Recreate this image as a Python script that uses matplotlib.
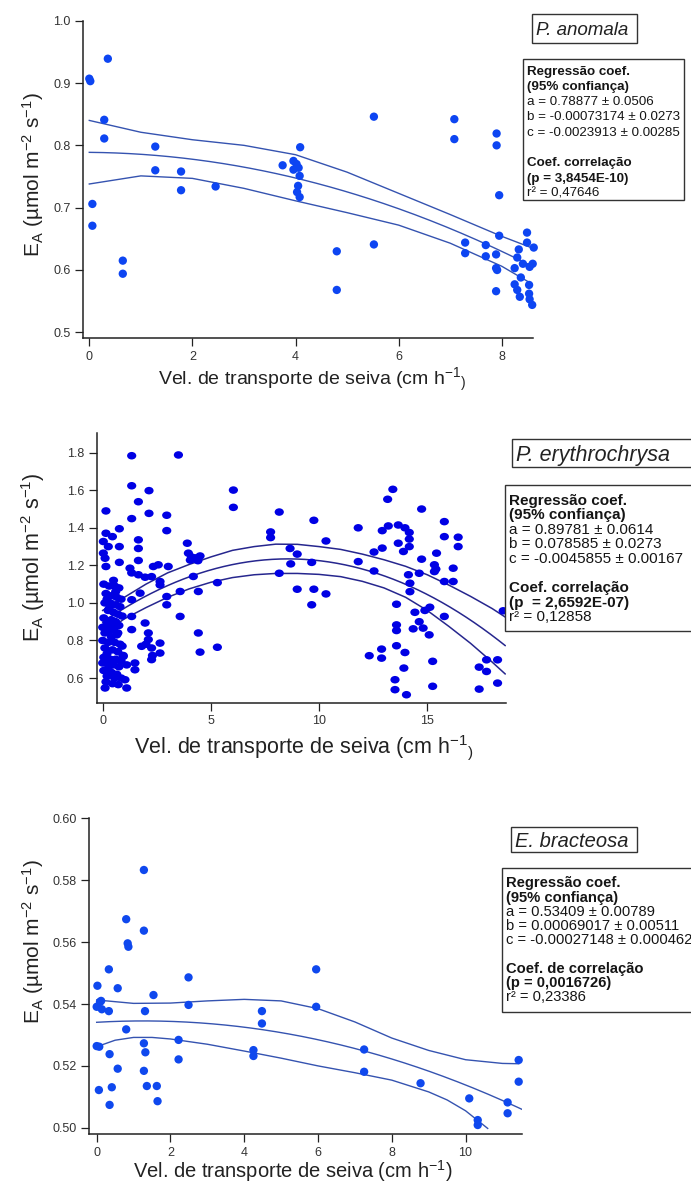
import numpy as np
import matplotlib
matplotlib.use("Agg")
import matplotlib.pyplot as plt
from matplotlib.path import Path
from matplotlib.transforms import Affine2D
from matplotlib.patches import Rectangle
from matplotlib.ticker import FormatStrFormatter

plt.rcParams['font.family'] = ['Liberation Sans', 'DejaVu Sans']
plt.rcParams['mathtext.fontset'] = 'custom'
plt.rcParams['mathtext.rm'] = 'Liberation Sans'
plt.rcParams['mathtext.it'] = 'Liberation Sans:italic'
plt.rcParams['mathtext.bf'] = 'Liberation Sans:bold'
plt.rcParams['mathtext.default'] = 'regular'

W, H = 691, 1187

# ---------------- data: P. anomala ----------------
p1_x = [0.0, 0.02, 0.36, 0.29, 0.29, 0.06, 0.06, 0.65, 0.65, 1.28,
        1.28, 1.78, 1.78, 2.45, 3.75, 3.96, 3.96, 4.02, 4.09, 4.06,
        4.08, 4.05, 4.03, 4.08, 4.80, 4.80, 5.52, 5.52, 7.08, 7.08,
        7.29, 7.29, 7.69, 7.69, 7.90, 7.90, 7.95, 7.95, 7.89, 7.89,
        7.91, 7.89, 8.49, 8.49, 8.62, 8.33, 8.30, 8.41, 8.60, 8.54,
        8.25, 8.37, 8.53, 8.25, 8.30, 8.35, 8.53, 8.59, 8.54]
p1_y = [0.907, 0.903, 0.939, 0.841, 0.811, 0.706, 0.671, 0.615, 0.594, 0.798,
        0.760, 0.758, 0.728, 0.734, 0.768, 0.775, 0.761, 0.770, 0.797, 0.764,
        0.751, 0.735, 0.725, 0.717, 0.630, 0.568, 0.846, 0.641, 0.842, 0.810,
        0.644, 0.627, 0.640, 0.622, 0.819, 0.800, 0.720, 0.655, 0.625, 0.603,
        0.600, 0.566, 0.660, 0.644, 0.636, 0.633, 0.620, 0.610, 0.610, 0.605,
        0.603, 0.588, 0.576, 0.577, 0.568, 0.557, 0.562, 0.544, 0.553]
p1_coef = [0.78877, -0.00073174, -0.0023913]
p1_band_x = [0, 1, 2, 3, 4, 5, 6, 7, 8, 8.6]
p1_band_hi = [0.840, 0.821, 0.809, 0.800, 0.785, 0.757, 0.723, 0.689, 0.654, 0.635]
p1_band_lo = [0.738, 0.751, 0.747, 0.731, 0.711, 0.692, 0.672, 0.643, 0.606, 0.577]

# ---------------- data: P. erythrochrysa ----------------
p2_points = [
    (1.34, 1.784), (3.50, 1.788), (1.34, 1.624), (2.14, 1.598), (1.65, 1.539), (0.15, 1.49),
    (1.34, 1.449), (2.14, 1.477), (2.96, 1.467), (2.96, 1.385), (0.77, 1.395), (0.15, 1.371),
    (0.45, 1.353), (0.03, 1.327), (0.26, 1.30), (0.77, 1.30), (0.03, 1.265), (0.11, 1.238),
    (0.15, 1.194), (1.65, 1.336), (1.65, 1.29), (0.77, 1.216), (1.65, 1.226), (1.26, 1.185),
    (1.34, 1.16), (1.65, 1.15), (1.96, 1.137), (2.34, 1.194), (2.57, 1.203), (3.03, 1.194),
    (2.26, 1.14), (2.65, 1.114), (2.65, 1.096), (3.91, 1.318), (3.96, 1.265), (4.10, 1.245),
    (4.30, 1.24), (4.40, 1.225), (4.05, 1.228), (4.50, 1.25), (4.19, 1.141), (3.58, 1.061),
    (4.42, 1.061), (2.96, 1.034), (2.96, 0.99), (1.73, 1.052), (1.34, 1.017), (3.58, 0.928),
    (1.34, 0.928), (1.96, 0.893), (1.34, 0.858), (2.11, 0.840), (2.11, 0.805), (2.65, 0.786),
    (1.80, 0.769), (2.26, 0.76), (2.65, 0.733), (2.26, 0.698), (1.49, 0.68), (1.49, 0.644),
    (4.42, 0.84), (4.50, 0.738), (0.95, 0.715), (1.11, 0.67), (1.03, 0.591), (1.11, 0.547),
    (0.72, 0.565), (0.11, 0.547), (5.30, 1.108), (5.30, 0.764), (2.00, 0.78), (2.30, 0.72),
    (6.04, 1.601), (6.04, 1.509), (8.16, 1.484), (7.76, 1.378), (7.76, 1.348), (9.76, 1.44),
    (10.32, 1.33), (8.66, 1.29), (8.99, 1.26), (8.69, 1.208), (9.66, 1.216), (8.16, 1.158),
    (8.99, 1.073), (9.76, 1.073), (10.32, 1.048), (9.66, 0.99),
    (13.41, 1.605), (13.17, 1.552), (14.74, 1.50), (11.81, 1.40), (12.92, 1.385), (13.20, 1.41),
    (13.66, 1.415), (13.97, 1.40), (14.17, 1.375), (14.17, 1.34), (13.66, 1.318), (14.17, 1.30),
    (13.90, 1.274), (12.92, 1.292), (12.54, 1.271), (15.79, 1.433), (15.79, 1.353), (16.43, 1.35),
    (16.43, 1.30), (14.74, 1.233), (15.43, 1.265), (15.33, 1.203), (15.40, 1.18), (15.33, 1.167),
    (16.20, 1.185), (15.79, 1.114), (16.20, 1.114), (14.63, 1.158), (14.13, 1.15), (14.20, 1.105),
    (14.20, 1.06), (11.81, 1.22), (12.54, 1.17), (13.58, 0.993), (14.43, 0.95), (14.89, 0.96),
    (15.12, 0.977), (15.79, 0.928), (13.58, 0.883), (13.58, 0.853), (14.35, 0.862), (14.63, 0.90),
    (14.81, 0.866), (15.09, 0.83), (13.58, 0.772), (13.97, 0.736), (13.92, 0.653), (12.89, 0.754),
    (12.89, 0.706), (12.32, 0.719), (15.25, 0.689), (13.51, 0.591), (13.51, 0.538), (14.04, 0.511),
    (15.25, 0.556), (17.40, 0.658), (17.74, 0.697), (18.25, 0.697), (17.74, 0.635), (17.40, 0.541),
    (18.25, 0.573), (18.51, 0.958),
    (0.05, 1.10), (0.30, 1.09), (0.55, 1.09), (0.75, 1.08), (0.15, 1.05), (0.45, 1.04),
    (0.65, 1.03), (0.85, 1.02), (0.10, 1.00), (0.35, 1.00), (0.60, 0.99), (0.80, 0.98),
    (0.25, 0.96), (0.50, 0.95), (0.70, 0.94), (0.90, 0.93), (0.05, 0.92), (0.40, 0.91),
    (0.60, 0.90), (0.20, 0.89), (0.75, 0.88), (0.00, 0.87), (0.50, 0.86), (0.30, 0.85),
    (0.10, 0.84), (0.65, 0.83), (0.40, 0.82), (0.00, 0.80), (0.25, 0.79), (0.55, 0.79),
    (0.80, 0.78), (0.10, 0.76), (0.45, 0.75), (0.70, 0.74), (0.20, 0.73), (0.95, 0.72),
    (0.05, 0.71), (0.35, 0.70), (0.60, 0.70), (0.85, 0.69), (0.15, 0.68), (0.50, 0.67),
    (0.75, 0.66), (0.25, 0.65), (0.05, 0.64), (0.40, 0.63), (0.65, 0.62), (0.20, 0.61),
    (0.55, 0.60), (0.85, 0.60), (0.15, 0.58), (0.45, 0.57), (0.30, 0.97), (0.60, 1.06),
    (0.00, 0.68), (0.70, 0.84), (0.35, 0.88), (0.90, 0.77), (0.50, 1.12), (0.20, 1.02),
]
p2_coef = [0.89781, 0.078585, -0.0045855]
p2_band_x = [0, 1, 2, 3, 4, 5, 6, 7, 8, 9, 10, 11, 12, 13, 14, 15, 16, 17, 18, 18.6]
p2_band_hi = [0.960, 1.030, 1.100, 1.160, 1.205, 1.245, 1.280, 1.300, 1.313, 1.312,
              1.300, 1.285, 1.260, 1.230, 1.195, 1.150, 1.095, 1.035, 0.970, 0.925]
p2_band_lo = [0.835, 0.915, 0.975, 1.030, 1.075, 1.110, 1.135, 1.150, 1.157, 1.157,
              1.152, 1.140, 1.115, 1.080, 1.030, 0.960, 0.875, 0.785, 0.685, 0.622]

# ---------------- data: E. bracteosa ----------------
p3_points = [
    (1.28, 0.5833), (0.80, 0.5674), (1.28, 0.5637), (0.84, 0.5596), (0.86, 0.5585), (0.33, 0.5512),
    (0.02, 0.5459), (0.57, 0.5451), (1.54, 0.5429), (2.49, 0.5486), (2.49, 0.5397), (0.09, 0.5407),
    (0.00, 0.5391), (0.14, 0.5383), (0.12, 0.5410), (0.33, 0.5377), (1.31, 0.5377), (0.80, 0.5318),
    (0.00, 0.5264), (0.07, 0.5262), (1.28, 0.5273), (1.32, 0.5244), (0.35, 0.5238), (2.22, 0.5284),
    (2.22, 0.5221), (0.57, 0.5191), (1.28, 0.5184), (0.06, 0.5122), (0.41, 0.5131), (1.36, 0.5135),
    (1.63, 0.5135), (0.35, 0.5074), (1.65, 0.5086), (4.25, 0.5251), (4.25, 0.5232), (4.48, 0.5377),
    (4.48, 0.5337), (5.95, 0.5512), (5.95, 0.5391), (7.25, 0.5253), (7.25, 0.5181), (8.78, 0.5144),
    (10.10, 0.5095), (10.33, 0.5025), (10.33, 0.5009), (11.14, 0.5082), (11.14, 0.5047),
    (11.44, 0.5219), (11.44, 0.5149),
]
p3_coef = [0.53409, 0.00069017, -0.00027148]
p3_hi_x = [0, 1, 2, 3, 4, 5, 6, 7, 8, 9, 10, 11, 11.44]
p3_band_hi = [0.5413, 0.5402, 0.5403, 0.5410, 0.5415, 0.5410, 0.5385, 0.5342, 0.5290,
              0.5250, 0.5220, 0.5208, 0.5207]
p3_lo_x = [0, 0.5, 1, 1.5, 2, 3, 4, 5, 6, 7, 8, 9, 9.5, 10, 10.6]
p3_band_lo = [0.5262, 0.5283, 0.5292, 0.5292, 0.5287, 0.5270, 0.5248, 0.5225, 0.5200,
              0.5178, 0.5154, 0.5116, 0.5090, 0.5055, 0.4998]

titles = ["P. anomala", "P. erythrochrysa", "E. bracteosa"]
stats = [
    [("Regressão coef.", True), ("(95% confiança)", True), ("a = 0.78877 ± 0.0506", False),
     ("b = -0.00073174 ± 0.0273", False), ("c = -0.0023913 ± 0.00285", False), ("", False),
     ("Coef. correlação", True), ("(p = 3,8454E-10)", True), ("r² = 0,47646", False)],
    [("Regressão coef.", True), ("(95% confiança)", True), ("a = 0.89781 ± 0.0614", False),
     ("b = 0.078585 ± 0.0273", False), ("c = -0.0045855 ± 0.00167", False), ("", False),
     ("Coef. correlação", True), ("(p  = 2,6592E-07)", True), ("r² = 0,12858", False)],
    [("Regressão coef.", True), ("(95% confiança)", True), ("a = 0.53409 ± 0.00789", False),
     ("b = 0.00069017 ± 0.00511", False), ("c = -0.00027148 ± 0.000462", False), ("", False),
     ("Coef. de correlação", True), ("(p = 0,0016726)", True), ("r² = 0,23386", False)],
]

ylab = r"E$_{A}$ (µmol m$^{-2}$ s$^{-1}$)"
xlab_small = r"Vel. de transporte de seiva (cm h$^{-1}$$_{)}$"
xlab_norm = r"Vel. de transporte de seiva (cm h$^{-1}$)"

# ---------------- figure ----------------
fig = plt.figure(figsize=(W / 100, H / 100), dpi=100)


def rect(l, r, t, b):
    return [l / W, 1 - b / H, (r - l) / W, (b - t) / H]


def fx(x):
    return x / W


def fy(y):
    return 1 - y / H


def style_axes(ax):
    for s in ("top", "right"):
        ax.spines[s].set_visible(False)
    for s in ("left", "bottom"):
        ax.spines[s].set_linewidth(1.1)
        ax.spines[s].set_color("#222222")
    ax.tick_params(direction="out", length=6, width=0.9, labelsize=9,
                   colors="#222222", labelcolor="#333333", pad=3)


def box_title(text, l, r, t, b, size):
    fig.add_artist(Rectangle((fx(l), fy(b)), (r - l) / W, (b - t) / H,
                             transform=fig.transFigure, facecolor="white",
                             edgecolor="#333333", lw=1.0, zorder=10))
    fig.text(fx(l + 4), fy((t + b) / 2), text, style="italic", fontsize=size,
             color="#222222", ha="left", va="center_baseline", zorder=11)


def box_stats(lines, l, r, t, b, first, step, size):
    fig.add_artist(Rectangle((fx(l), fy(b)), (r - l) / W, (b - t) / H,
                             transform=fig.transFigure, facecolor="white",
                             edgecolor="#333333", lw=1.0, zorder=10))
    for i, (txt, bold) in enumerate(lines):
        if not txt:
            continue
        fig.text(fx(l + 4), fy(first + i * step), txt, fontsize=size,
                 fontweight="bold" if bold else "normal", color="#151515",
                 ha="left", va="center_baseline", zorder=11)


# Panel 1
ax1 = fig.add_axes(rect(83.3, 532.7, 20.7, 338.3))
style_axes(ax1)
ax1.scatter(p1_x, p1_y, s=36, color="#0d45f2", edgecolors="none", zorder=3, clip_on=False)
xx = np.linspace(0, 8.6, 200)
ax1.plot(xx, p1_coef[0] + p1_coef[1] * xx + p1_coef[2] * xx ** 2, color="#3553b0", lw=1.0)
ax1.plot(p1_band_x, p1_band_hi, color="#3553b0", lw=1.0)
ax1.plot(p1_band_x, p1_band_lo, color="#3553b0", lw=1.0)
ax1.set_xlim(-0.116, 8.60)
ax1.set_ylim(0.4904, 1.0)
ax1.set_xticks([0, 2, 4, 6, 8])
ax1.set_yticks([0.5, 0.6, 0.7, 0.8, 0.9, 1.0])
ax1.yaxis.set_major_formatter(FormatStrFormatter("%.1f"))
ax1.set_xlabel(xlab_small, fontsize=14, color="#222222", va="center")
ax1.xaxis.set_label_coords((311.7 - 83.3) / 449.4, -(380 - 338.3) / 317.6)
ax1.set_ylabel(ylab, fontsize=15, color="#222222", va="center")
ax1.yaxis.set_label_coords(-(83.3 - 33) / 449.4, (338.3 - 175) / 317.6)

# Panel 2
ax2 = fig.add_axes(rect(96.7, 506, 433, 703))
style_axes(ax2)
p2_x = [p[0] for p in p2_points]
p2_y = [p[1] for p in p2_points]
ell = Affine2D().scale(1.22, 1.0).transform_path(Path.unit_circle())
ax2.scatter(p2_x, p2_y, s=44, marker=ell, color="#0000e4", edgecolors="none", zorder=3)
xx = np.linspace(0, 18.6, 300)
ax2.plot(xx, p2_coef[0] + p2_coef[1] * xx + p2_coef[2] * xx ** 2, color="#26268e", lw=1.1)
ax2.plot(p2_band_x, p2_band_hi, color="#26268e", lw=1.1)
ax2.plot(p2_band_x, p2_band_lo, color="#26268e", lw=1.1)
ax2.set_xlim(-0.277, 18.64)
ax2.set_ylim(0.467, 1.905)
ax2.set_xticks([0, 5, 10, 15])
ax2.set_yticks([0.6, 0.8, 1.0, 1.2, 1.4, 1.6, 1.8])
ax2.yaxis.set_major_formatter(FormatStrFormatter("%.1f"))
ax2.set_xlabel(xlab_small, fontsize=15.5, color="#222222", va="center")
ax2.xaxis.set_label_coords((304 - 96.7) / 409.3, -(748 - 703) / 270)
ax2.set_ylabel(ylab, fontsize=15.5, color="#222222", va="center")
ax2.yaxis.set_label_coords(-(96.7 - 33) / 409.3, (703 - 557) / 270)

# Panel 3
ax3 = fig.add_axes(rect(89.3, 522, 818.3, 1134.3))
style_axes(ax3)
p3_x = [p[0] for p in p3_points]
p3_y = [p[1] for p in p3_points]
ax3.scatter(p3_x, p3_y, s=36, color="#0f48ee", edgecolors="none", zorder=3, clip_on=False)
xx = np.linspace(0, 11.53, 200)
ax3.plot(xx, p3_coef[0] + p3_coef[1] * xx + p3_coef[2] * xx ** 2, color="#3553b0", lw=1.0)
ax3.plot(p3_hi_x, p3_band_hi, color="#3553b0", lw=1.0)
ax3.plot(p3_lo_x, p3_band_lo, color="#3553b0", lw=1.0)
ax3.set_xlim(-0.2, 11.53)
ax3.set_ylim(0.4979, 0.60)
ax3.set_xticks([0, 2, 4, 6, 8, 10])
ax3.set_yticks([0.50, 0.52, 0.54, 0.56, 0.58, 0.60])
ax3.yaxis.set_major_formatter(FormatStrFormatter("%.2f"))
ax3.set_xlabel(xlab_norm, fontsize=14.5, color="#222222", va="center")
ax3.xaxis.set_label_coords((293 - 89.3) / 432.7, -(1171 - 1134.3) / 316)
ax3.set_ylabel(ylab, fontsize=15, color="#222222", va="center")
ax3.yaxis.set_label_coords(-(89.3 - 33) / 432.7, (1134.3 - 942) / 316)

# Boxes
box_title(titles[0], 531.7, 636.7, 14, 43, 13.5)
box_stats(stats[0], 522.7, 684, 59, 200, 70, 15.3, 9.6)
box_title(titles[1], 512, 700, 439, 467, 15.5)
box_stats(stats[1], 505, 700, 485, 631, 499, 14.6, 11)
box_title(titles[2], 511, 637, 827, 852, 14.5)
box_stats(stats[2], 502, 700, 868, 1012, 882, 14.2, 10.6)

fig.savefig("out.png", dpi=100, facecolor="white")
